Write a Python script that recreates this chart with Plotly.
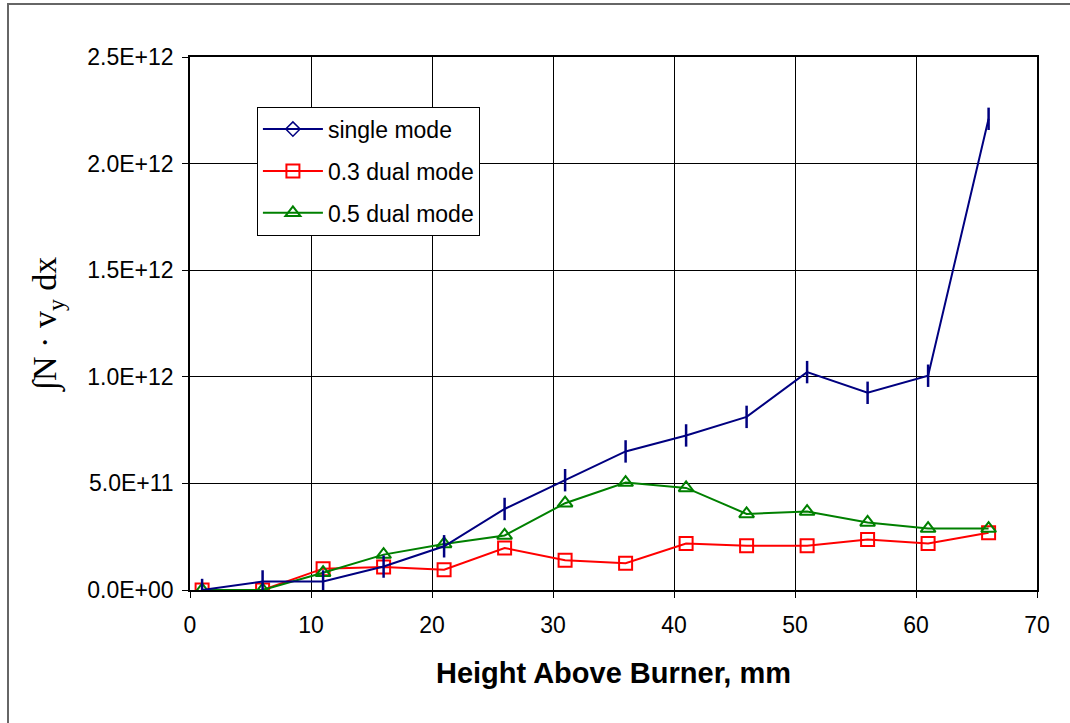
import plotly.graph_objects as go

heights = [1, 6, 11, 16, 21, 26, 31, 36, 41, 46, 51, 56, 61, 66]
single_mode = [0, 4.0e10, 4.0e10, 1.1e11, 2.05e11, 3.8e11, 5.15e11, 6.5e11,
               7.25e11, 8.12e11, 1.022e12, 9.25e11, 1.005e12, 2.21e12]
dual_03 = [0, 0, 1.0e11, 1.08e11, 9.5e10, 1.97e11, 1.4e11, 1.26e11,
           2.18e11, 2.08e11, 2.08e11, 2.37e11, 2.18e11, 2.69e11]
dual_05 = [0, 0, 8.1e10, 1.66e11, 2.16e11, 2.56e11, 4.07e11, 5.04e11,
           4.79e11, 3.57e11, 3.68e11, 3.17e11, 2.88e11, 2.88e11]

series_names = ["single mode", "0.3 dual mode", "0.5 dual mode"]
x_ticks = [0, 10, 20, 30, 40, 50, 60, 70]
y_ticks = [0, 5e11, 1e12, 1.5e12, 2e12, 2.5e12]
y_tick_text = ["0.0E+00", "5.0E+11", "1.0E+12", "1.5E+12", "2.0E+12", "2.5E+12"]

NAVY = "#000080"
RED = "#FF0000"
GREEN = "#008000"
SANS = "Liberation Sans, Arial, sans-serif"

fig = go.Figure()

# legend-only entry for single mode (diamond symbol as in the legend)
fig.add_trace(go.Scatter(
    x=[None], y=[None], name=series_names[0], mode="lines+markers",
    line=dict(color=NAVY, width=2),
    marker=dict(symbol="diamond-open", size=11, color=NAVY, line=dict(width=1.5, color=NAVY)),
    legendgroup="a",
))
fig.add_trace(go.Scatter(
    x=heights, y=dual_03, name=series_names[1], mode="lines+markers",
    line=dict(color=RED, width=2),
    marker=dict(symbol="square-open", size=13, color=RED, line=dict(width=2, color=RED)),
    legendgroup="b",
))
fig.add_trace(go.Scatter(
    x=heights, y=dual_05, name=series_names[2], mode="lines+markers",
    line=dict(color=GREEN, width=2),
    marker=dict(symbol="triangle-up-open", size=13, color=GREEN, line=dict(width=2, color=GREEN)),
    legendgroup="c",
))
fig.add_trace(go.Scatter(
    x=heights, y=single_mode, name=series_names[0], mode="lines+markers",
    line=dict(color=NAVY, width=2),
    marker=dict(symbol="line-ns", size=16, color=NAVY, line=dict(width=2.5, color=NAVY)),
    showlegend=False,
))

axis_font = dict(family=SANS, size=23, color="black")

fig.update_layout(
    width=1070, height=723,
    margin=dict(l=190, r=33, t=57, b=133),
    paper_bgcolor="white", plot_bgcolor="white",
    font=dict(family=SANS, size=23, color="black"),
    showlegend=True,
    legend=dict(
        x=0.079, y=0.907, xanchor="left", yanchor="top",
        bgcolor="white", bordercolor="black", borderwidth=1,
        font=dict(family=SANS, size=23, color="black"),
        traceorder="grouped", tracegroupgap=9,
        itemwidth=60,
    ),
    xaxis=dict(
        range=[0, 70], tickvals=x_ticks, ticktext=[str(v) for v in x_ticks],
        showgrid=True, gridcolor="black", gridwidth=1,
        showline=True, linecolor="black", linewidth=1.5, mirror=True,
        ticks="outside", ticklen=6, tickcolor="black",
        tickfont=axis_font, zeroline=False, ticklabelstandoff=8,
        title=dict(text="<b>Height Above Burner, mm</b>",
                   font=dict(family=SANS, size=29, color="black"),
                   standoff=25),
    ),
    yaxis=dict(
        range=[0, 2.5e12], tickvals=y_ticks, ticktext=y_tick_text,
        showgrid=True, gridcolor="black", gridwidth=1,
        showline=True, linecolor="black", linewidth=1.5, mirror=True,
        ticks="outside", ticklen=6, tickcolor="black",
        tickfont=axis_font, zeroline=False, ticklabelstandoff=4,
        title=dict(text="∫N · v<sub>y</sub> dx",
                   font=dict(family="Liberation Serif, Times New Roman, serif", size=34, color="black"),
                   standoff=20),
    ),
    shapes=[dict(
        type="rect", xref="paper", yref="paper",
        x0=(8 - 190) / 847, x1=(1080 - 190) / 847,
        y0=(590 - 730) / 533, y1=(590 - 4) / 533,
        line=dict(color="#666666", width=2), fillcolor="rgba(0,0,0,0)", layer="below",
    )],
)

fig.write_html("out.html", config={"displayModeBar": False},
               post_script="document.body.style.margin='0';document.body.style.overflow='hidden';")
